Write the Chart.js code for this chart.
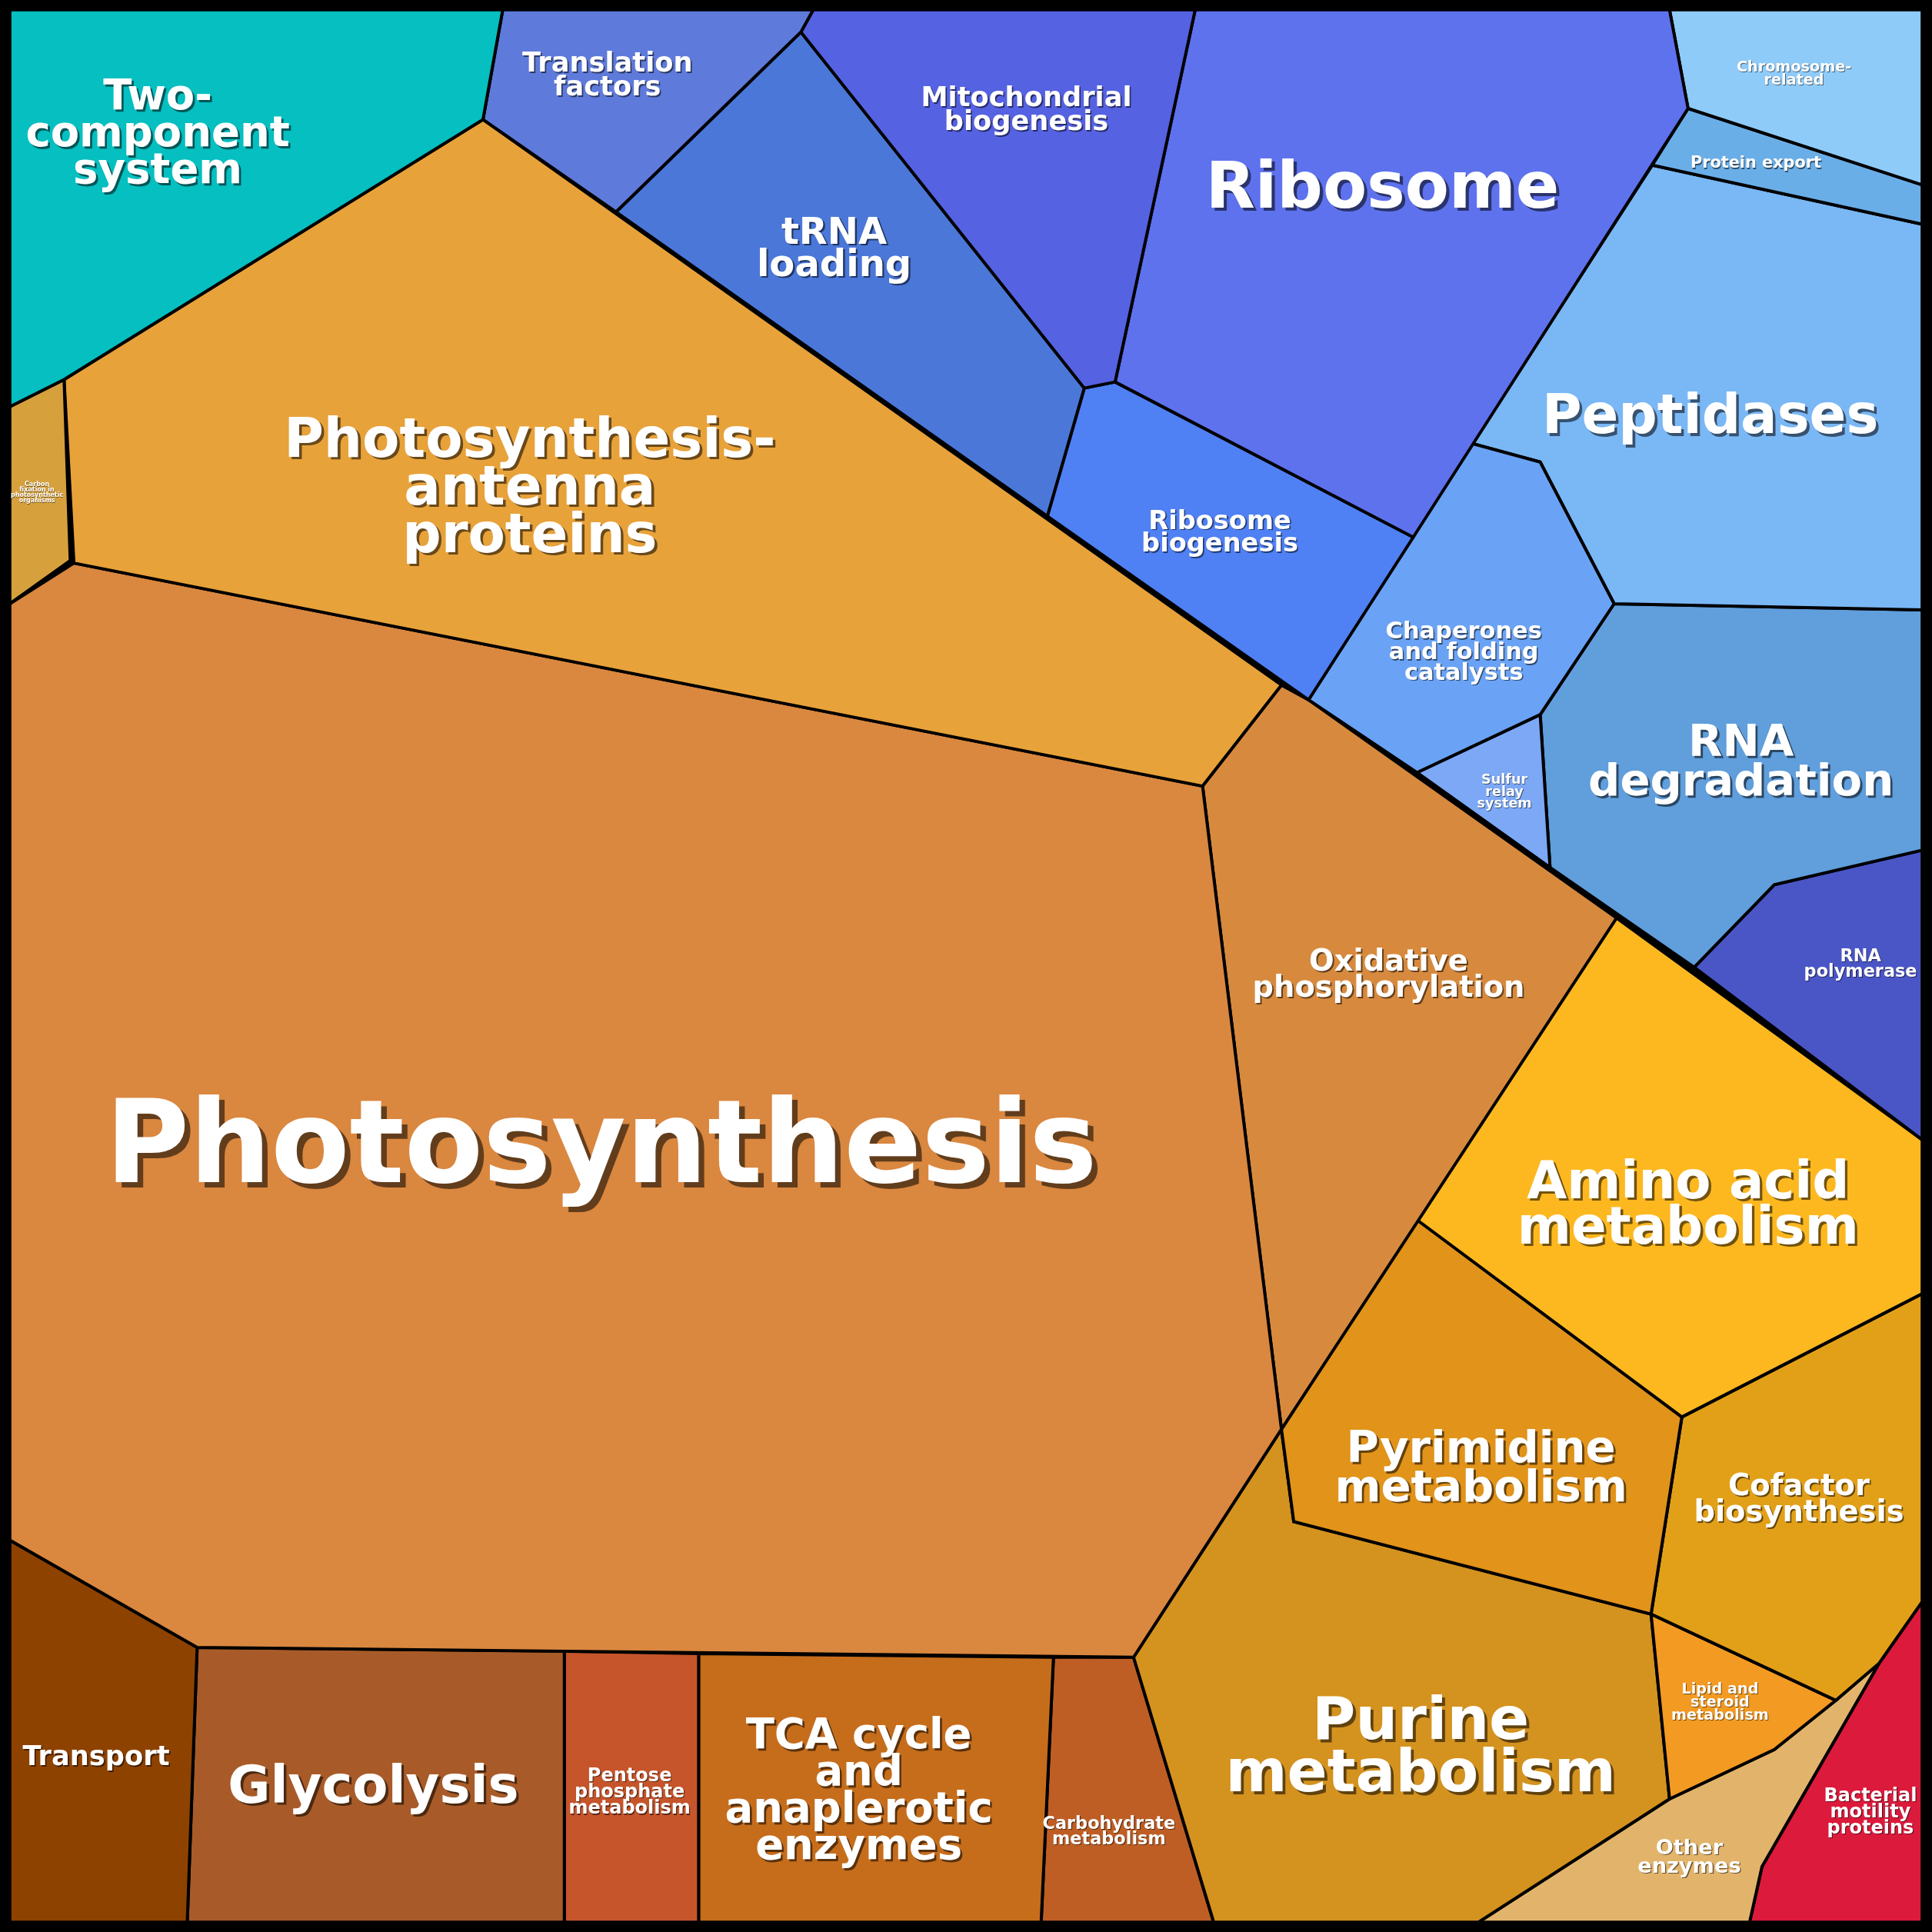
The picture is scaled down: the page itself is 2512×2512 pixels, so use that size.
<!DOCTYPE html>
<html><head><meta charset="utf-8">
<script src="https://cdn.jsdelivr.net/npm/chart.js@4/dist/chart.umd.min.js"></script>
<style>html,body{margin:0;padding:0;background:#000}canvas{display:block}</style>
</head><body>
<canvas id="c" width="2512" height="2512"></canvas>
<script>
const categories = ["Two-component system","Translation factors","Mitochondrial biogenesis","tRNA loading","Ribosome","Chromosome-related","Protein export","Ribosome biogenesis","Chaperones and folding catalysts","Peptidases","Sulfur relay system","RNA degradation","RNA polymerase","Carbon fixation","Photosynthesis-antenna proteins","Photosynthesis","Oxidative phosphorylation","Amino acid metabolism","Pyrimidine metabolism","Cofactor biosynthesis","Lipid and steroid metabolism","Purine metabolism","Other enzymes","Bacterial motility proteins","Transport","Glycolysis","Pentose phosphate metabolism","TCA cycle and anaplerotic enzymes","Carbohydrate metabolism"];
const colors = ["#05BFC0","#5E7ADB","#5562E2","#4B77D9","#5E72EE","#8FCBF8","#6AAEE8","#4F80F4","#6AA3F5","#7AB7F5","#7CA8F5","#609EDC","#4A56C6","#D6A03C","#E8A23A","#DA873F","#D78A3E","#FDB820","#E1931A","#E2A018","#F39A22","#D4921F","#E2B46B","#DC1A3C","#8E4200","#A85B28","#C6552B","#C66D1C","#BE5E24"];
const polygons = [
 [[8,8],[408,8],[392,97],[52,308],[8,330]],
 [[408,8],[660,8],[650,26],[500,172],[392,97]],
 [[660,8],[970,8],[905,310],[880,315],[650,26]],
 [[500,172],[650,26],[880,315],[850,419]],
 [[970,8],[1355,8],[1370,88],[1147,436],[905,310]],
 [[1355,8],[1560,8],[1560,150],[1370,88]],
 [[1370,88],[1560,150],[1560,182],[1341,134]],
 [[850,419],[880,315],[905,310],[1147,436],[1062,568]],
 [[1062,568],[1195,360],[1250,375],[1310,490],[1250,580],[1150,627]],
 [[1195,360],[1341,134],[1560,182],[1560,495],[1310,490],[1250,375]],
 [[1150,627],[1250,580],[1258,704]],
 [[1250,580],[1310,490],[1560,495],[1560,690],[1440,718],[1375,785],[1258,704]],
 [[1375,785],[1440,718],[1560,690],[1560,925]],
 [[8,330],[52,308],[57,455],[8,490]],
 [[392,97],[1040,556],[976,638],[60,457],[52,308]],
 [[8,490],[60,457],[976,638],[1040,1160],[920,1345],[160,1337],[8,1250]],
 [[976,638],[1040,556],[1062,568],[1312,745],[1040,1160]],
 [[1150,990],[1312,745],[1560,925],[1560,1050],[1365,1150]],
 [[1040,1160],[1150,990],[1365,1150],[1340,1310],[1050,1235]],
 [[1365,1150],[1560,1050],[1560,1300],[1525,1350],[1490,1380],[1340,1310]],
 [[1340,1310],[1490,1380],[1440,1420],[1355,1460]],
 [[920,1345],[1040,1160],[1050,1235],[1340,1310],[1355,1460],[1200,1560],[985,1560]],
 [[1200,1560],[1355,1460],[1440,1420],[1490,1380],[1525,1350],[1430,1515],[1420,1560]],
 [[1525,1350],[1560,1300],[1560,1560],[1420,1560],[1430,1515]],
 [[8,1250],[160,1337],[152,1560],[8,1560]],
 [[160,1337],[458,1340],[458,1560],[152,1560]],
 [[458,1340],[567,1342],[567,1560],[458,1560]],
 [[567,1342],[855,1345],[845,1560],[567,1560]],
 [[855,1345],[920,1345],[985,1560],[845,1560]]
];
const labelLines = [["Two-","component","system"],["Translation","factors"],["Mitochondrial","biogenesis"],["tRNA","loading"],["Ribosome"],["Chromosome-","related"],["Protein export"],["Ribosome","biogenesis"],["Chaperones","and folding","catalysts"],["Peptidases"],["Sulfur","relay","system"],["RNA","degradation"],["RNA","polymerase"],["Carbon","fixation in","photosynthetic","organisms"],["Photosynthesis-","antenna","proteins"],["Photosynthesis"],["Oxidative","phosphorylation"],["Amino acid","metabolism"],["Pyrimidine","metabolism"],["Cofactor","biosynthesis"],["Lipid and","steroid","metabolism"],["Purine","metabolism"],["Other","enzymes"],["Bacterial","motility","proteins"],["Transport"],["Glycolysis"],["Pentose","phosphate","metabolism"],["TCA cycle","and","anaplerotic","enzymes"],["Carbohydrate","metabolism"]];
const labelX = [128,493,833,677,1122,1456,1425,990,1188,1388,1221,1413,1510,30,430,488,1127,1370,1202,1460,1396,1153,1371,1518,78,303,511,697,900];
const labelY = [110,62,90,203,155,60,133,433,530,340,643,620,783,400,398,935,792,980,1193,1218,1382,1420,1508,1471,1427,1452,1455,1455,1487];
const labelSize = [34,22,22,30,52,12,13,21,19,44,11,36,14,5,44,93,24,42,36,24,12,48,17,15,22,42,15,34,14];

const S = 2512/1568;
const datasets = polygons.map((p,i)=>({
  label: categories[i],
  data: p.concat([p[0]]).map(v=>({x:v[0],y:v[1]})),
  showLine:true, fill:'shape', backgroundColor: colors[i], borderColor:'#000',
  borderWidth: 4, pointRadius:0, tension:0
}));
const labelPlugin = {
  id:'labels',
  afterDatasetsDraw(chart){
    const ctx = chart.ctx, xs = chart.scales.x, ys = chart.scales.y;
    ctx.save();
    ctx.textAlign='center'; ctx.textBaseline='middle';
    labelLines.forEach((lines,i)=>{
      const fs = labelSize[i]*S;
      ctx.font = `bold ${fs}px "DejaVu Sans"`;
      const lh = fs*0.88, cx = xs.getPixelForValue(labelX[i]), cy = ys.getPixelForValue(labelY[i]);
      lines.forEach((t,j)=>{
        const y = cy + (j-(lines.length-1)/2)*lh;
        ctx.fillStyle='rgba(0,0,0,0.55)';
        ctx.fillText(t,cx+fs*0.05,y+fs*0.05);
        ctx.fillStyle='#fff';
        ctx.fillText(t,cx,y);
      });
    });
    ctx.restore();
  },
  beforeDraw(chart){
    const ctx=chart.ctx; ctx.save(); ctx.fillStyle='#000'; ctx.fillRect(0,0,chart.width,chart.height); ctx.restore();
  }
};
new Chart(document.getElementById('c'),{
  type:'scatter',
  data:{datasets},
  options:{responsive:false, animation:false, devicePixelRatio:1,
    layout:{padding:0},
    plugins:{legend:{display:false},tooltip:{enabled:false}},
    scales:{x:{type:'linear',min:0,max:1568,display:false},y:{type:'linear',min:0,max:1568,reverse:true,display:false}}},
  plugins:[labelPlugin]
});
</script>
</body></html>
